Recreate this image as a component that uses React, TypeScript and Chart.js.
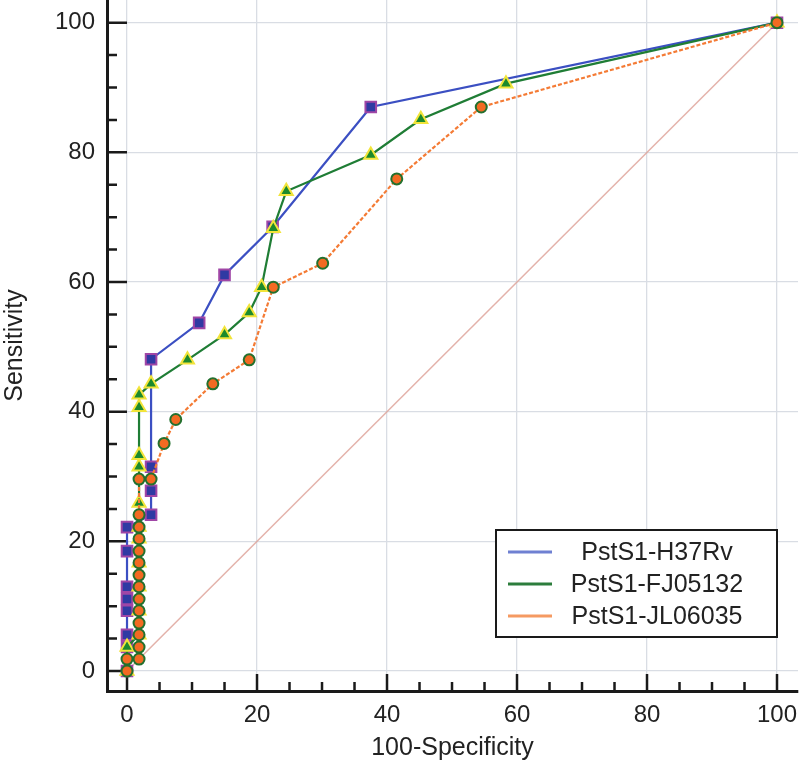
import React, { useEffect, useRef } from "react";
import { Chart, registerables } from "chart.js";

Chart.register(...registerables);

// ---- data ----
const SERIES_NAMES = ["PstS1-H37Rv", "PstS1-FJ05132", "PstS1-JL06035"];

const H37RV_X = [0, 0, 0, 0, 0, 0, 0, 0, 3.7, 3.7, 3.7, 3.7, 11.1, 15.0, 22.4, 37.5, 100];
const H37RV_Y = [0, 3.7, 5.6, 9.3, 11.1, 13.0, 18.5, 22.2, 24.1, 27.8, 31.5, 48.1, 53.7, 61.1, 68.5, 87.0, 100];

const FJ_X = [0, 0, 1.85, 1.85, 1.85, 1.85, 1.85, 1.85, 1.85, 1.85, 1.85, 1.85, 1.85, 3.7, 9.3, 15.0, 18.8, 20.7, 22.5, 24.5, 37.5, 45.2, 58.3, 100];
const FJ_Y = [0, 3.7, 5.6, 9.3, 13.0, 16.7, 20.4, 22.2, 25.9, 31.5, 33.3, 40.7, 42.6, 44.3, 48.0, 51.9, 55.3, 59.2, 68.3, 74.0, 79.6, 85.1, 90.6, 100];

const JL_X = [0, 0, 1.85, 1.85, 1.85, 1.85, 1.85, 1.85, 1.85, 1.85, 1.85, 1.85, 1.85, 1.85, 1.85, 1.85, 3.7, 5.7, 7.5, 13.2, 18.8, 22.5, 30.1, 41.5, 54.5, 100];
const JL_Y = [0, 1.85, 1.85, 3.7, 5.6, 7.4, 9.3, 11.1, 13.0, 14.8, 16.7, 18.5, 20.4, 22.2, 24.1, 29.6, 29.6, 35.1, 38.8, 44.3, 48.0, 59.2, 62.9, 75.9, 87.0, 100];

const DIAG_X = [0, 100];
const DIAG_Y = [0, 100];

const AXIS_TICKS = [0, 5, 10, 15, 20, 25, 30, 35, 40, 45, 50, 55, 60, 65, 70, 75, 80, 85, 90, 95, 100];

const X_TITLE = "100-Specificity";
const Y_TITLE = "Sensitivity";

const zip = (xs: number[], ys: number[]) => xs.map((x, i) => ({ x, y: ys[i] }));

const FONT = "'Liberation Sans', Arial, sans-serif";
const TEXT = "#222222";
const GRID = "#d9dde4";

const LEGEND_COLORS = ["#6f80d2", "#2c7d3c", "#f59a62"];

const tickMarks = {
  id: "tickMarks",
  beforeDatasetsDraw(chart: any) {
    const { ctx, chartArea, scales } = chart;
    ctx.save();
    ctx.strokeStyle = "#1a1a1a";
    ctx.lineWidth = 2.5;
    ctx.beginPath();
    for (const v of AXIS_TICKS) {
      const major = v % 20 === 0;
      const px = scales.x.getPixelForValue(v);
      ctx.moveTo(px, chartArea.bottom);
      ctx.lineTo(px, chartArea.bottom - (major ? 17 : 9));
      const py = scales.y.getPixelForValue(v);
      ctx.moveTo(chartArea.left, py);
      ctx.lineTo(chartArea.left + (major ? 20 : 10), py);
    }
    ctx.stroke();
    ctx.restore();
  },
};

const boxLegend = {
  id: "boxLegend",
  afterDraw(chart: any) {
    const { ctx } = chart;
    const left = 496, top = 530, right = 777, bottom = 637;
    ctx.save();
    ctx.fillStyle = "#ffffff";
    ctx.fillRect(left, top, right - left, bottom - top);
    ctx.strokeStyle = "#1a1a1a";
    ctx.lineWidth = 2;
    ctx.strokeRect(left, top, right - left, bottom - top);
    ctx.font = `25px ${FONT}`;
    ctx.textAlign = "center";
    ctx.textBaseline = "middle";
    SERIES_NAMES.forEach((name, i) => {
      const y = 552 + i * 32;
      ctx.strokeStyle = LEGEND_COLORS[i];
      ctx.lineWidth = 3;
      ctx.beginPath();
      ctx.moveTo(508, y);
      ctx.lineTo(552, y);
      ctx.stroke();
      ctx.fillStyle = TEXT;
      ctx.fillText(name, 657, y + 1);
    });
    ctx.restore();
  },
};

const noPad = (s: any) => {
  s.paddingTop = 0;
  s.paddingBottom = 0;
  s.paddingLeft = 0;
  s.paddingRight = 0;
};

export default function App() {
  const ref = useRef<HTMLCanvasElement | null>(null);

  useEffect(() => {
    if (!ref.current) return;
    const tickFont = { family: FONT, size: 24 };
    const gridColor = (c: any) => (c.tick && c.tick.value % 20 === 0 ? GRID : "rgba(0,0,0,0)");
    const chart = new Chart(ref.current, {
      type: "line",
      data: {
        datasets: [
          {
            label: "diag",
            data: zip(DIAG_X, DIAG_Y),
            borderColor: "rgba(222,165,155,0.85)",
            borderWidth: 1.5,
            pointRadius: 0,
            order: 3,
          },
          {
            label: SERIES_NAMES[0],
            data: zip(H37RV_X, H37RV_Y),
            borderColor: "#3b4fc2",
            borderWidth: 2.2,
            pointStyle: "rect",
            pointRadius: 7.5,
            pointBackgroundColor: "#2f3aa3",
            pointBorderColor: "#a046a6",
            pointBorderWidth: 2,
            order: 2,
          },
          {
            label: SERIES_NAMES[1],
            data: zip(FJ_X, FJ_Y),
            borderColor: "#1f7d35",
            borderWidth: 2.2,
            pointStyle: "triangle",
            pointRadius: 7.5,
            pointBackgroundColor: "#1c8a2c",
            pointBorderColor: "#f2e43a",
            pointBorderWidth: 2,
            order: 1,
          },
          {
            label: SERIES_NAMES[2],
            data: zip(JL_X, JL_Y),
            borderColor: "#f47b35",
            borderWidth: 2.2,
            borderDash: [4, 2],
            pointStyle: "circle",
            pointRadius: 5.5,
            pointBackgroundColor: "#f26a22",
            pointBorderColor: "#23702e",
            pointBorderWidth: 2,
            order: 0,
          },
        ],
      },
      options: {
        animation: false,
        responsive: false,
        devicePixelRatio: 1,
        layout: { autoPadding: false, padding: { top: 0, right: 2, left: 0, bottom: 0 } },
        plugins: { legend: { display: false }, tooltip: { enabled: false } },
        elements: { line: { tension: 0 } },
        scales: {
          x: {
            type: "linear",
            min: -3.08,
            max: 103.23,
            afterBuildTicks: (s: any) => {
              s.ticks = AXIS_TICKS.map((v) => ({ value: v }));
            },
            afterFit: (s: any) => {
              s.height = 77;
              noPad(s);
            },
            ticks: {
              callback: (v: any) => (Number(v) % 20 === 0 ? String(v) : ""),
              font: tickFont,
              color: TEXT,
              padding: 10,
              maxRotation: 0,
              autoSkip: false,
            },
            grid: { color: gridColor, lineWidth: 1.3, drawTicks: false },
            border: { color: "#1a1a1a", width: 3 },
            title: {
              display: true,
              text: X_TITLE,
              font: { family: FONT, size: 25 },
              color: TEXT,
              padding: { top: 0, bottom: 5 },
            },
          },
          y: {
            type: "linear",
            min: -3.08,
            max: 103.5,
            afterBuildTicks: (s: any) => {
              s.ticks = AXIS_TICKS.map((v) => ({ value: v }));
            },
            afterFit: (s: any) => {
              s.width = 107;
              noPad(s);
            },
            ticks: {
              callback: (v: any) => (Number(v) % 20 === 0 ? String(v) : ""),
              font: tickFont,
              color: TEXT,
              padding: 12,
              autoSkip: false,
            },
            grid: { color: gridColor, lineWidth: 1.3, drawTicks: false },
            border: { color: "#1a1a1a", width: 3 },
            title: {
              display: true,
              text: Y_TITLE,
              font: { family: FONT, size: 25 },
              color: TEXT,
              padding: { top: 0, bottom: 0 },
            },
          },
        },
      },
      plugins: [tickMarks, boxLegend],
    } as any);
    return () => chart.destroy();
  }, []);

  return (
    <div style={{ position: "fixed", left: 0, top: 0, width: 800, height: 768, background: "#ffffff" }}>
      <canvas ref={ref} width={800} height={768} />
    </div>
  );
}
